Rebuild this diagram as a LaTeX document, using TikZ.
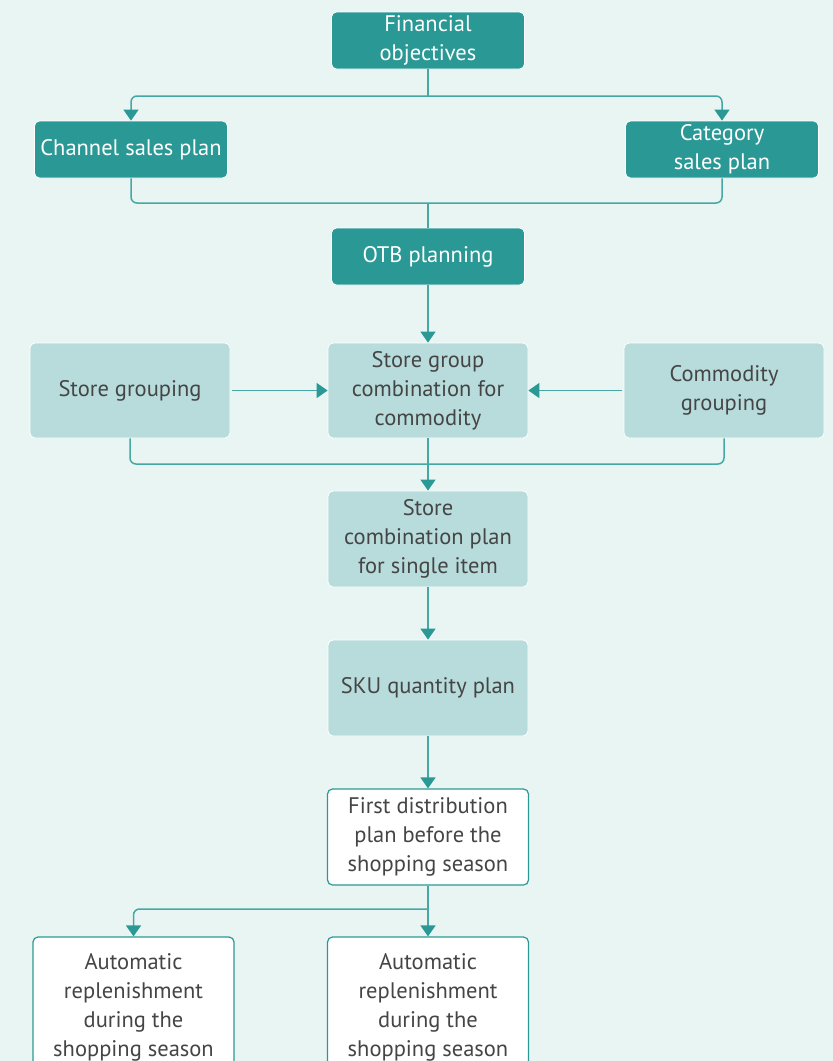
\documentclass[tikz,border=0pt]{standalone}
\usepackage{fontspec}
\setmainfont{PT Sans}
\usetikzlibrary{arrows.meta}
\definecolor{bg}{HTML}{E8F5F3}
\definecolor{dark}{HTML}{2A9995}
\definecolor{light}{HTML}{B8DCDC}
\definecolor{ln}{HTML}{45A8A4}
\definecolor{txt}{HTML}{454545}
\tikzset{
  box/.style={rectangle, rounded corners=5pt, align=center, inner sep=2pt, font=\fontsize{22.5}{29}\selectfont},
  darkbox/.style={box, fill=dark, draw=white, line width=0.8pt, text=white, minimum width=193pt, minimum height=57pt},
  lightbox/.style={box, fill=light, draw=white, line width=0.8pt, text=txt, minimum width=200pt, minimum height=95pt},
  whitebox/.style={box, fill=white, draw=dark, line width=1.2pt, text=txt, minimum width=201pt, minimum height=96pt},
  conn/.style={draw=ln, line width=1.5pt},
  arr/.style={conn, -{Triangle[width=15pt,length=11pt,color=dark]}}
}
\begin{document}
\begin{tikzpicture}[x=1pt,y=-1pt]
\fill[bg] (0,0) rectangle (833,1061);
\useasboundingbox (0,0) rectangle (833,1061);
\node[darkbox] (fin) at (428,40.5) {Financial\\objectives};
\node[darkbox] (ch) at (131,149.5) {Channel sales plan};
\node[darkbox] (cat) at (722,149.5) {Category\\sales plan};
\node[darkbox] (otb) at (428,256.5) {OTB planning};
\node[lightbox] (sg) at (130,390.5) {Store grouping};
\node[lightbox] (sgc) at (428,390.5) {Store group\\combination for\\commodity};
\node[lightbox] (cg) at (724,390.5) {Commodity\\grouping};
\node[lightbox, minimum height=96pt] (scp) at (428,539) {Store\\combination plan\\for single item};
\node[lightbox, minimum height=96pt] (sku) at (428,688) {SKU quantity plan};
\node[whitebox] (fd) at (428,837) {First distribution\\plan before the\\shopping season};
\node[whitebox, minimum height=140pt] (ar1) at (133.5,1007) {Automatic\\replenishment\\during the\\shopping season};
\node[whitebox, minimum height=140pt] (ar2) at (428,1007) {Automatic\\replenishment\\during the\\shopping season};
\coordinate (j1) at (428,96);
\coordinate (j2) at (428,203);
\coordinate (j3) at (428,464);
\coordinate (j4) at (428,909);
\draw[conn] (fin.south) -- (j1);
\draw[arr, rounded corners=6pt] (j1) -| (ch.north);
\draw[arr, rounded corners=6pt] (j1) -| (cat.north);
\draw[conn, rounded corners=6pt] (ch.south) |- (j2) -| (cat.south);
\draw[conn] (j2) -- (otb.north);
\draw[arr] (otb) -- (sgc);
\draw[arr, shorten <=2pt] (sg) -- (sgc);
\draw[arr, shorten <=2pt] (cg) -- (sgc);
\draw[conn, rounded corners=6pt] (sg.south) |- (j3) -| (cg.south);
\draw[arr] (sgc) -- (scp);
\draw[arr] (scp) -- (sku);
\draw[arr] (sku) -- (fd);
\draw[arr] (fd) -- (ar2);
\draw[arr, rounded corners=6pt] (j4) -| (ar1.north);
\end{tikzpicture}
\end{document}
